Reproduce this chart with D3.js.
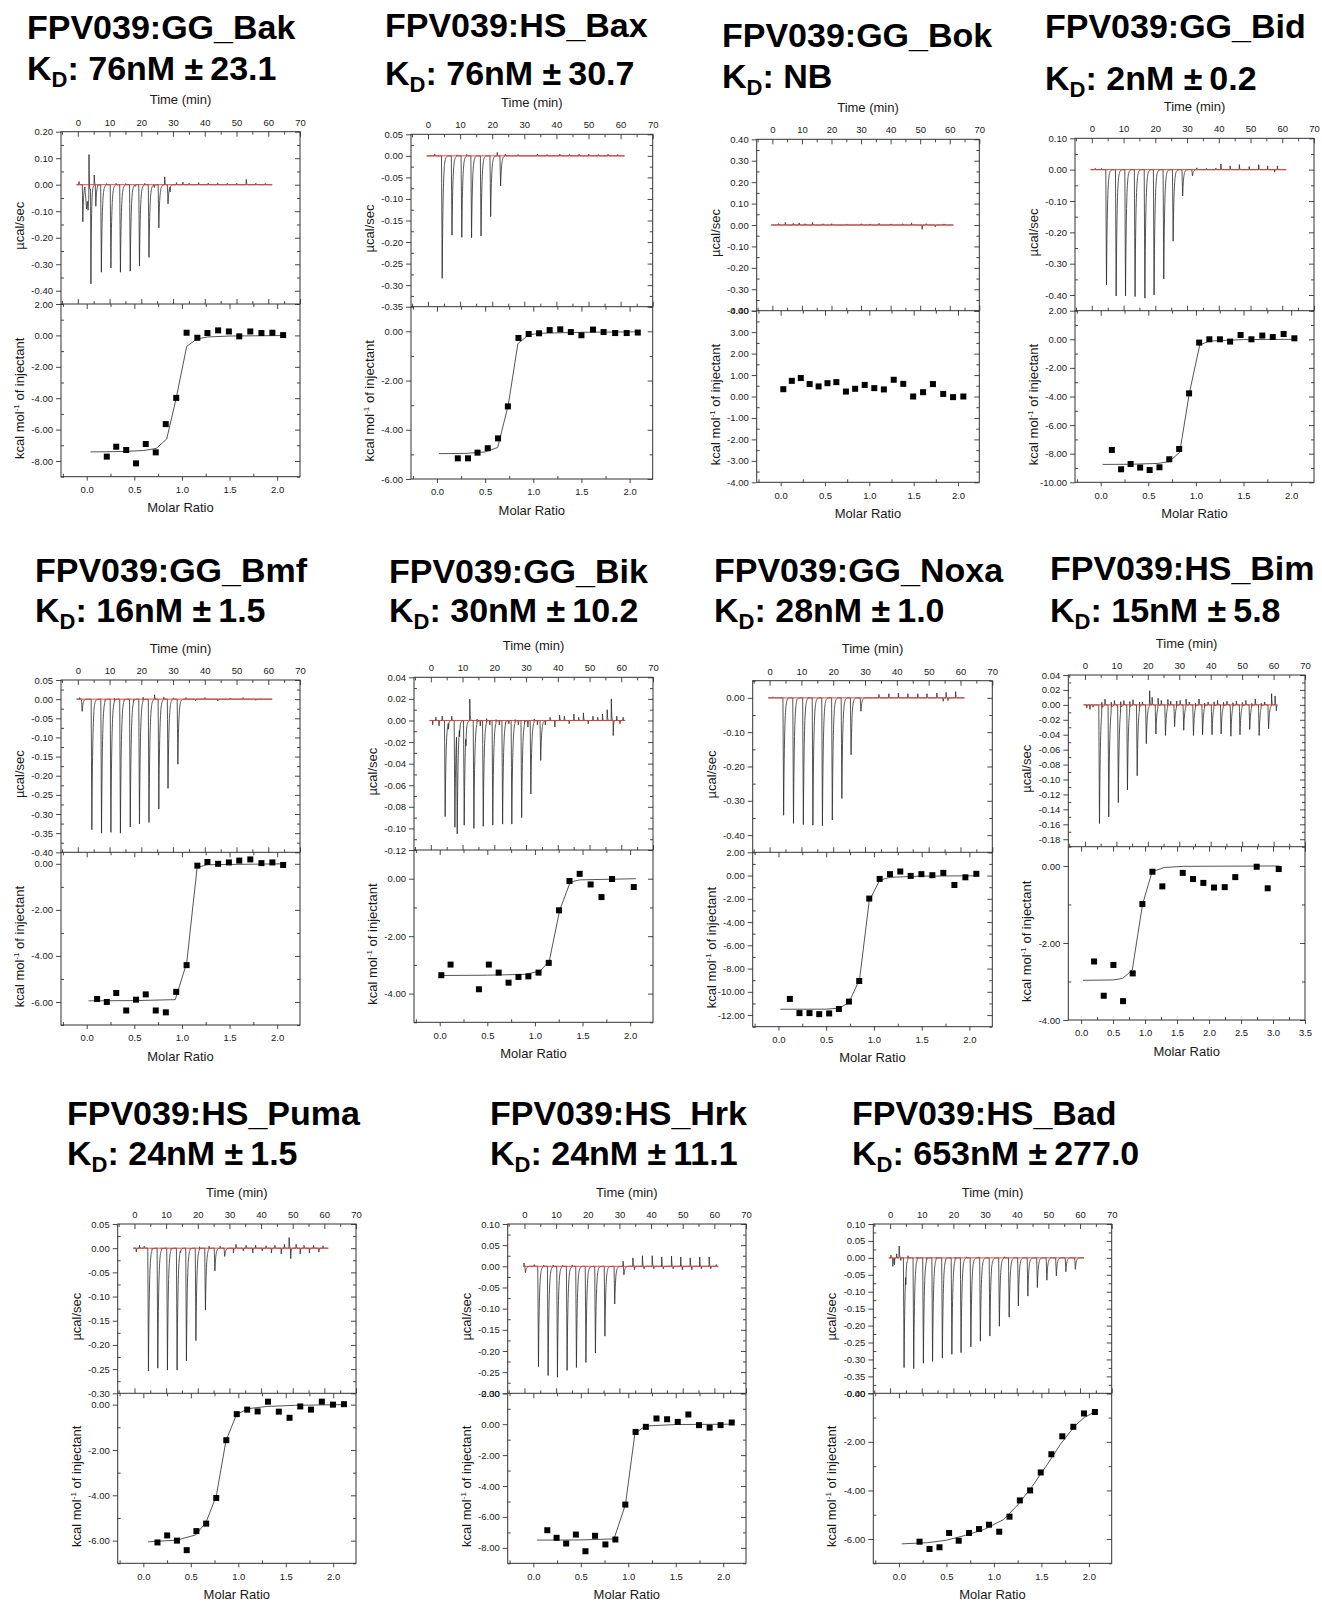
<!DOCTYPE html>
<html>
<head>
<meta charset="utf-8">
<script src="https://cdn.jsdelivr.net/npm/d3@7"></script>
<style>
  body { margin: 0; background: #fff; }
  svg text { font-family: "Liberation Sans", Arial, sans-serif; }
</style>
</head>
<body>
<script>
var width = 1322,
    height = 1611;

/* ============================ DATA ============================ */
// titles
var names = ["FPV039:GG_Bak", "FPV039:HS_Bax", "FPV039:GG_Bok", "FPV039:GG_Bid",
             "FPV039:GG_Bmf", "FPV039:GG_Bik", "FPV039:GG_Noxa", "FPV039:HS_Bim",
             "FPV039:HS_Puma", "FPV039:HS_Hrk", "FPV039:HS_Bad"];
var kdValue = ["76nM", "76nM", "NB", "2nM", "16nM", "30nM", "28nM", "15nM", "24nM", "24nM", "653nM"];
var kdError = ["23.1", "30.7", null, "0.2", "1.5", "10.2", "1.0", "5.8", "1.5", "11.1", "277.0"];

// raw thermograms: injections [time (min), peak µcal/sec, width] and small spikes [time, value]
var bakInj = [[1.4,-0.14,0.8],[2.2,-0.09,2.5],[3.0,-0.05,1],[4.0,-0.36,0.6],[5.5,-0.08,0.8],
  [7.2,-0.33],[10.2,-0.314],[13.2,-0.33],[16.3,-0.326],[19.2,-0.307],[22.2,-0.274],[25.3,-0.163],[28.2,-0.072]];
var bakNoise = [[0.3,0.012],[3.45,0.16],[5.1,0.04],[6.2,0.006],[9,0.005],[12,0.006],[15,0.005],[18,-0.005],
  [21,0.006],[24,-0.01],[27.3,0.03],[29,-0.02],[31,0.008],[33,0.01],[35,0.006],[38,0.008],[41,0.006],
  [44,0.007],[47,0.006],[50,0.006],[53,0.02],[56,0.006],[59,0.005]];
var baxInj = [[4.2,-0.284],[7.25,-0.184],[10.3,-0.189],[13.35,-0.19],[16.3,-0.186],[19.3,-0.141],[22.4,-0.07]];
var baxNoise = [[2,0.004],[5,0.003],[9,0.003],[12,0.004],[21.5,0.008],[24,0.004],[28,0.003],[34,0.004],
  [37,0.003],[41,0.004],[44,0.003],[47,0.004],[50,0.004],[53,0.003],[56,0.004],[59,0.003]];
var bokInj = [];
var bokNoise = [[2,0.006],[4.3,0.012],[7,0.008],[9,0.01],[11,0.006],[13.5,0.012],[17,0.006],[20,0.006],
  [25,0.005],[30,0.006],[33,0.005],[36,0.008],[40,0.005],[44,0.006],[47,0.01],[50.6,-0.02],[52,0.006],[55,-0.008],[58,0.005]];
var bidInj = [[4.4,-0.368],[7.45,-0.403],[10.4,-0.403],[13.4,-0.405],[16.5,-0.41],[19.4,-0.40],
  [22.45,-0.349],[25.4,-0.228],[28.4,-0.084],[31.5,-0.02]];
var bidNoise = [[1,0.004],[3,0.004],[33,0.006],[36,0.004],[39,0.005],[40.6,0.018],[43.5,0.012],[46.4,0.016],
  [49.5,0.01],[52.5,0.016],[55.3,0.012],[57.5,-0.008],[58.4,0.012]];
var bmfInj = [[1.15,-0.032],[4.2,-0.341],[7.25,-0.35],[10.2,-0.348],[13.2,-0.35],[16.3,-0.334],[19.2,-0.326],
  [22.2,-0.322],[25.3,-0.287],[28.2,-0.233],[31.3,-0.17]];
var bmfNoise = [[0.5,0.004],[5,0.005],[8.5,0.006],[11.5,0.008],[14.5,0.005],[17.5,0.008],[20.5,0.01],[24.1,0.012],
  [27,0.006],[30,0.004],[34,0.004],[37,-0.004],[40,0.004],[44,-0.005],[48,0.003],[52,0.004],[56,-0.003]];
var bikInj = [[4.3,-0.089],[7.36,-0.099],[8.1,-0.098],[10.3,-0.097],[13.35,-0.1],[16.3,-0.098],[19.3,-0.097],
  [22.4,-0.096],[25.3,-0.096],[28.4,-0.09],[31.3,-0.068],[34.4,-0.037]];
var bikNoise = [[0.5,-0.004],[1.5,0.003],[2.5,-0.005],[3.5,0.004],[5.5,-0.006],[6.5,0.004],[9,-0.008],[11,-0.01],
  [12.2,0.02],[14.5,0.004],[15.5,-0.005],[17.5,0.004],[18.5,-0.004],[20.5,0.003],[21.5,-0.004],[23.5,0.002],
  [24.5,-0.003],[26.5,0.003],[27.5,-0.004],[29.5,0.003],[30.5,-0.006],[32.5,0.003],[33.5,-0.004],[36,-0.004],
  [37.5,0.003],[39,-0.006],[40.5,0.005],[42,0.004],[43.5,-0.003],[45,0.006],[46.5,0.003],[48,0.007],
  [49.5,-0.003],[51,0.004],[52.5,0.003],[54,0.006],[55.5,0.01],[56.8,0.02],[57.4,-0.014],[58.5,0.004],
  [59.5,-0.003],[60.5,0.003]];
var noxaInj = [[4.2,-0.342],[7.3,-0.366],[10.4,-0.369],[13.4,-0.371],[16.4,-0.373],[19.5,-0.356],[22.5,-0.293],
  [25.4,-0.166],[28.5,-0.039]];
var noxaNoise = [[1,0.003],[5.5,0.003],[8.5,0.004],[12,0.003],[34.3,0.01],[37.4,0.012],[40.4,0.014],[43.4,0.012],
  [46.5,0.012],[49.4,0.012],[52.5,0.014],[54.5,-0.01],[55.4,0.016],[56,-0.008],[58.4,0.018]];
var bimInj = [[4.4,-0.159],[7.35,-0.15],[10.4,-0.131],[13.3,-0.114],[16.4,-0.095],[19.3,-0.052],[22.35,-0.039],
  [25.4,-0.041],[28.3,-0.029],[31.2,-0.034],[34.3,-0.041],[37.2,-0.04],[40.2,-0.04],[43.1,-0.039],
  [46.2,-0.042],[49.1,-0.04],[52.2,-0.033],[55.2,-0.041],[58.2,-0.032]];
var bimNoise = [[0.5,-0.004],[1.5,-0.006],[2.5,-0.003],[5.3,0.014],[6.3,0.008],[8.3,0.012],[9.3,0.006],
  [11.3,0.013],[12.3,0.006],[14.2,0.012],[15.2,0.007],[17.3,0.01],[18.2,0.004],[20.5,0.02],[21.3,0.01],
  [23.2,0.012],[24.2,0.006],[26.3,0.01],[27.2,0.005],[29.1,0.008],[30.2,0.006],[32.1,0.01],[33.1,0.004],
  [35.1,0.006],[36.2,0.008],[38,0.006],[39.1,0.004],[41,0.008],[42.1,0.006],[44,0.006],[45.1,0.005],
  [47,0.007],[48.1,0.005],[50,0.006],[51.1,0.006],[53,0.005],[54.1,0.008],[56,0.006],[57.1,0.004],
  [59.3,0.016],[60.4,0.012],[60.8,-0.008]];
var pumaInj = [[4.2,-0.254],[7.15,-0.248],[10.2,-0.252],[13.25,-0.252],[16.2,-0.233],[19.2,-0.191],
  [22.2,-0.128],[25.2,-0.047],[28.3,-0.017]];
var pumaNoise = [[0.5,-0.008],[1.5,0.006],[3,0.004],[5.5,0.004],[8.5,0.004],[11.5,0.004],[14.5,-0.004],
  [17.5,0.003],[20.5,0.006],[23.5,0.006],[27,0.004],[31.2,-0.01],[32,0.008],[34.3,-0.006],[35.2,0.006],
  [37.3,-0.01],[38.2,0.006],[40.3,-0.006],[41.5,0.005],[43.2,-0.01],[44.3,0.006],[46.3,-0.012],[47.3,0.008],
  [48.8,0.022],[49.3,-0.022],[51,0.008],[52.3,-0.012],[53.5,0.006],[55.2,-0.01],[56.5,0.006],[58.2,-0.008],[59.5,0.005]];
var hrkInj = [[0.1,-0.015],[4.2,-0.237],[7.25,-0.258],[10.2,-0.262],[13.25,-0.246],[16.2,-0.239],[19.2,-0.227],
  [22.2,-0.205],[25.2,-0.165],[28.3,-0.089],[31.2,-0.021]];
var hrkNoise = [[-0.2,0.008],[3,0.004],[6,0.003],[9,0.004],[12,0.003],[15,0.004],[31.1,0.012],[34.2,0.02],
  [34.7,-0.008],[37.2,0.025],[37.7,-0.006],[40.3,0.025],[40.8,-0.006],[43.3,0.022],[43.8,-0.006],[46.4,0.024],
  [46.9,-0.006],[49.3,0.022],[49.8,-0.008],[52.3,0.02],[52.8,-0.008],[55.3,0.022],[55.8,-0.006],[58.3,0.022],
  [58.8,-0.006],[60.5,0.004]];
var badInj = [[4.2,-0.324],[7.25,-0.327],[10.3,-0.311],[13.2,-0.306],[16.3,-0.296],[19.3,-0.285],[22.2,-0.28],
  [25.3,-0.263],[28.3,-0.246],[31.3,-0.231],[34.3,-0.202],[37.4,-0.175],[40.3,-0.142],[43.3,-0.113],
  [46.3,-0.088],[49.3,-0.066],[52.3,-0.053],[55.3,-0.041],[58.3,-0.034]];
var badNoise = [[0.2,0.008],[0.8,-0.025],[1.3,-0.02],[2.0,0.012],[2.8,0.035],[3.3,-0.008],[4.9,-0.035],
  [5.6,0.01],[8.5,0.008],[11.5,0.008],[14.5,0.006],[17.5,0.004],[20.5,0.008],[24,0.004],[28,0.003],[32,0.003],[36,0.004]];

// integrated heats [molar ratio, kcal/mol] and fitted curve points
var bakHeat = [[0.211,-7.72],[0.31,-7.09],[0.415,-7.30],[0.518,-8.15],[0.62,-6.92],[0.725,-7.45],[0.83,-5.65],
  [0.94,-3.98],[1.049,0.17],[1.162,-0.15],[1.268,0.15],[1.38,0.32],[1.493,0.25],[1.602,-0.06],[1.718,0.25],
  [1.835,0.15],[1.95,0.17],[2.063,0.02]];
var bakFit = [[0.04,-7.42],[0.2,-7.41],[0.4,-7.39],[0.6,-7.33],[0.73,-7.2],[0.84,-6.6],[0.94,-4.0],[1.05,-0.7],
  [1.16,-0.22],[1.27,-0.1],[1.5,-0.04],[2.07,-0.01]];
var baxHeat = [[0.216,-5.16],[0.322,-5.16],[0.421,-4.93],[0.527,-4.75],[0.634,-4.35],[0.736,-3.05],[0.846,-0.27],
  [0.952,-0.11],[1.06,-0.08],[1.17,0.05],[1.28,0.08],[1.39,-0.03],[1.50,-0.16],[1.62,0.07],[1.73,-0.03],
  [1.85,-0.07],[1.97,-0.07],[2.085,-0.05]];
var baxFit = [[0.02,-4.97],[0.3,-4.96],[0.5,-4.9],[0.63,-4.72],[0.74,-3.0],[0.84,-0.5],[0.95,-0.15],[1.06,-0.08],
  [1.5,-0.04],[2.08,-0.02]];
var bokHeat = [[0.03,0.34],[0.126,0.73],[0.227,0.86],[0.327,0.58],[0.428,0.47],[0.528,0.62],[0.628,0.67],
  [0.736,0.23],[0.84,0.36],[0.948,0.54],[1.056,0.39],[1.164,0.33],[1.275,0.78],[1.383,0.59],[1.494,0.0],
  [1.606,0.2],[1.717,0.58],[1.833,0.12],[1.944,-0.03],[2.06,0.0]];
var bokFit = [];
var bidHeat = [[0.117,-7.74],[0.214,-9.09],[0.314,-8.72],[0.414,-8.97],[0.514,-9.14],[0.617,-8.95],[0.72,-8.39],
  [0.824,-7.67],[0.928,-3.78],[1.034,-0.23],[1.141,0.0],[1.252,0.0],[1.359,-0.16],[1.469,0.30],[1.583,0.0],
  [1.697,0.26],[1.807,0.16],[1.921,0.37],[2.034,0.07]];
var bidFit = [[0.02,-8.75],[0.3,-8.74],[0.6,-8.68],[0.72,-8.55],[0.83,-7.9],[0.93,-3.8],[1.04,-0.4],[1.14,-0.12],
  [1.5,-0.02],[2.05,0]];
var bmfHeat = [[0.109,-5.87],[0.211,-6.0],[0.31,-5.61],[0.415,-6.37],[0.518,-5.9],[0.62,-5.67],[0.725,-6.37],
  [0.831,-6.45],[0.94,-5.56],[1.049,-4.4],[1.162,-0.08],[1.268,0.08],[1.38,0.0],[1.493,0.06],[1.602,0.14],
  [1.718,0.19],[1.835,0.03],[1.95,0.06],[2.063,-0.05]];
var bmfFit = [[0.02,-5.95],[0.5,-5.94],[0.93,-5.9],[1.05,-4.3],[1.16,-0.15],[1.27,-0.04],[2.07,0]];
var bikHeat = [[0.017,-3.36],[0.114,-2.99],[0.412,-3.85],[0.516,-2.99],[0.619,-3.27],[0.723,-3.62],[0.827,-3.42],
  [0.931,-3.40],[1.038,-3.27],[1.145,-2.93],[1.253,-1.10],[1.363,-0.08],[1.47,0.17],[1.585,-0.2],[1.699,-0.64],
  [1.81,-0.01],[2.038,-0.29]];
var bikFit = [[0.02,-3.37],[0.5,-3.36],[0.9,-3.33],[1.05,-3.22],[1.15,-2.88],[1.26,-1.1],[1.37,-0.12],[1.47,-0.04],[2.06,0]];
var noxaHeat = [[0.119,-10.61],[0.22,-11.83],[0.325,-11.83],[0.427,-11.92],[0.531,-11.86],[0.633,-11.48],
  [0.738,-10.84],[0.846,-9.07],[0.951,-1.98],[1.06,-0.29],[1.168,0.12],[1.276,0.35],[1.385,-0.03],[1.497,0.12],
  [1.612,0.03],[1.727,0.23],[1.843,-0.81],[1.958,-0.15],[2.073,0.15]];
var noxaFit = [[0.02,-11.5],[0.5,-11.49],[0.64,-11.4],[0.74,-10.9],[0.85,-8.9],[0.95,-2.2],[1.06,-0.4],[1.17,-0.15],
  [1.5,-0.05],[2.08,-0.02]];
var bimHeat = [[0.203,-2.48],[0.354,-3.37],[0.505,-2.57],[0.656,-3.51],[0.807,-2.79],[0.958,-0.99],[1.115,-0.15],
  [1.27,-0.53],[1.589,-0.18],[1.75,-0.34],[1.911,-0.44],[2.078,-0.56],[2.245,-0.55],[2.41,-0.29],[2.745,-0.02],
  [2.917,-0.58],[3.089,-0.08]];
var bimFit = [[0.03,-2.97],[0.5,-2.96],[0.65,-2.92],[0.8,-2.7],[0.96,-1.0],[1.11,-0.15],[1.3,-0.04],[1.6,-0.01],[3.1,0]];
var pumaHeat = [[0.149,-6.08],[0.251,-5.77],[0.354,-6.0],[0.457,-6.42],[0.559,-5.58],[0.662,-5.25],[0.768,-4.12],
  [0.874,-1.57],[0.984,-0.42],[1.094,-0.22],[1.204,-0.3],[1.313,0.13],[1.427,-0.31],[1.54,-0.58],[1.653,-0.08],
  [1.766,-0.22],[1.88,0.13],[1.997,0.0],[2.113,0.02]];
var pumaFit = [[0.05,-6.05],[0.35,-5.98],[0.55,-5.75],[0.66,-5.2],[0.77,-4.0],[0.87,-1.6],[0.98,-0.45],[1.1,-0.18],
  [1.3,-0.08],[1.6,-0.03],[2.1,0]];
var hrkHeat = [[0.147,-6.86],[0.245,-7.35],[0.346,-7.72],[0.448,-7.14],[0.549,-8.22],[0.65,-7.22],[0.759,-7.78],
  [0.864,-7.46],[0.969,-5.2],[1.077,-0.5],[1.185,-0.17],[1.297,0.37],[1.409,0.32],[1.521,0.15],[1.633,0.63],
  [1.745,-0.06],[1.857,-0.22],[1.972,-0.06],[2.09,0.11]];
var hrkFit = [[0.04,-7.5],[0.5,-7.49],[0.85,-7.42],[0.97,-5.2],[1.07,-0.6],[1.18,-0.12],[1.5,-0.02],[2.09,0]];
var badHeat = [[0.217,-6.11],[0.322,-6.41],[0.427,-6.34],[0.528,-5.75],[0.629,-6.07],[0.738,-5.75],[0.843,-5.59],
  [0.948,-5.41],[1.056,-5.70],[1.164,-5.08],[1.273,-4.41],[1.381,-4.0],[1.493,-3.26],[1.605,-2.51],[1.72,-1.77],
  [1.836,-1.38],[1.948,-0.83],[2.063,-0.77]];
var badFit = [[0.03,-6.2],[0.3,-6.15],[0.5,-6.05],[0.7,-5.85],[0.9,-5.6],[1.1,-5.2],[1.25,-4.6],[1.4,-3.85],
  [1.55,-3.0],[1.7,-2.1],[1.85,-1.35],[1.95,-1.0],[2.07,-0.75]];

var injections = [bakInj, baxInj, bokInj, bidInj, bmfInj, bikInj, noxaInj, bimInj, pumaInj, hrkInj, badInj];
var spikes = [bakNoise, baxNoise, bokNoise, bidNoise, bmfNoise, bikNoise, noxaNoise, bimNoise, pumaNoise, hrkNoise, badNoise];
var heats = [bakHeat, baxHeat, bokHeat, bidHeat, bmfHeat, bikHeat, noxaHeat, bimHeat, pumaHeat, hrkHeat, badHeat];
var fits = [bakFit, baxFit, bokFit, bidFit, bmfFit, bikFit, noxaFit, bimFit, pumaFit, hrkFit, badFit];

// axis ranges [min, max, major step]
var upperRange = [[-0.45,0.20,0.10],[-0.35,0.05,0.05],[-0.40,0.40,0.10],[-0.45,0.10,0.10],
                  [-0.40,0.05,0.05],[-0.12,0.04,0.02],[-0.45,0.05,0.10],[-0.19,0.04,0.02],
                  [-0.30,0.05,0.05],[-0.30,0.10,0.05],[-0.40,0.10,0.05]];
var lowerRange = [[-9,2,2],[-6,1,2],[-4,4,1],[-10,2,2],[-7,0.5,2],[-5,1,2],[-13,2,2],[-4,0.5,2],
                  [-7,0.5,2],[-9,2,2],[-7,0,2]];
var ratioRange = [[-0.27,2.24],[-0.27,2.24],[-0.27,2.24],[-0.27,2.24],[-0.27,2.24],[-0.27,2.24],
                  [-0.27,2.24],[-0.2,3.5],[-0.27,2.24],[-0.27,2.24],[-0.27,2.24]];
var timeRange = [-5.3, 70];

/* ============================ LAYOUT ============================ */
// frame: left, top, right, middle, bottom ; title x, baselines
var frames = [
  {L:61,    T:131.7, R:300,   M:304,   B:476.7,  tx:27,   ty:[39, 80]},
  {L:411,   T:134.3, R:652.7, M:306.7, B:479,    tx:385,  ty:[37, 85]},
  {L:756.7, T:139.3, R:979.3, M:310.7, B:482.3,  tx:722,  ty:[47, 88]},
  {L:1075,  T:138.3, R:1314,  M:310.7, B:482.3,  tx:1045, ty:[38, 90]},
  {L:61,    T:680,   R:300,   M:852.3, B:1025,   tx:35,   ty:[582, 622]},
  {L:414,   T:677.3, R:653,   M:850,   B:1022.3, tx:389,  ty:[583, 622]},
  {L:752.7, T:680.7, R:992.3, M:852.3, B:1026.7, tx:714,  ty:[582, 622]},
  {L:1068.3,T:675,   R:1305,  M:846.7, B:1020,   tx:1050, ty:[580, 622]},
  {L:117.7, T:1224,  R:356,   M:1393.3,B:1563.3, tx:67,   ty:[1125, 1165]},
  {L:507.7, T:1224,  R:746,   M:1393.3,B:1563.3, tx:490,  ty:[1125, 1165]},
  {L:873.3, T:1224,  R:1111.7,M:1393.3,B:1563.3, tx:852,  ty:[1125, 1165]}
];

var svg = d3.select('body').append('svg')
    .attr('width', width)
    .attr('height', height);

svg.append('rect').attr('width', width).attr('height', height).attr('fill', '#fff');

/* ============================ HELPERS ============================ */
function steps(lo, hi, step) {
  var out = [], k = Math.ceil(lo / step - 1e-6), v;
  while ((v = k * step) <= hi + step * 1e-6) { out.push(+v.toFixed(6)); k++; }
  return out;
}
function minors(lo, hi, step) {
  var major = steps(lo, hi, step).map(String);
  return steps(lo, hi, step / 2).filter(function(v) { return major.indexOf(String(v)) < 0; });
}

// shape of one heat pulse in the raw trace
function pulse(dt, w) {
  var r = 0.22 * w, tau = 0.28 * w;
  if (dt < 0) return 0;
  if (dt < r) return dt / r;
  return Math.exp(-(dt - r) / tau);
}

function tracePoints(inj, noise) {
  var ev = inj.map(function(e) { return [e[0], e[1], e[2] || 1]; })
      .concat(noise.map(function(e) { return [e[0], e[1], e[2] || 0.35]; }));
  var ts = d3.range(-0.4, 61.3, 0.05);
  ev.forEach(function(e) { ts.push(e[0] + 0.22 * e[2]); });
  ts.sort(d3.ascending);
  return ts.map(function(t) {
    var v = 0;
    ev.forEach(function(e) { v += e[1] * pulse(t - e[0], e[2]); });
    return [t, v];
  });
}

function styleAxis(sel, labels) {
  sel.select('.domain').remove();
  sel.selectAll('.tick line').attr('stroke', '#333').attr('stroke-width', 0.9);
  sel.selectAll('.tick text').attr('fill', '#1a1a1a').attr('font-size', 9.5)
     .attr('font-family', '"Liberation Sans", Arial, sans-serif');
  if (!labels) sel.selectAll('.tick text').remove();
}

function addAxis(g, gen, scale, vals, size, pad, fmt, labels, tx, ty) {
  var a = gen(scale).tickValues(vals).tickSize(size).tickPadding(pad)
      .tickFormat(fmt);
  g.append('g').attr('transform', 'translate(' + tx + ',' + ty + ')')
      .call(a).call(function(s) { styleAxis(s, labels); });
}

var f2 = function(v) { return v.toFixed(2); },
    f1 = function(v) { return v.toFixed(1); },
    f0 = function(v) { return String(v); };

/* ============================ BUILD PANELS ============================ */
function drawPanel(i) {
  var f = frames[i],
      g = svg.append('g').attr('class', 'panel');

  var xt = d3.scaleLinear().domain(timeRange).range([f.L, f.R]),
      xr = d3.scaleLinear().domain(ratioRange[i]).range([f.L, f.R]),
      yu = d3.scaleLinear().domain([upperRange[i][0], upperRange[i][1]]).range([f.M, f.T]),
      yl = d3.scaleLinear().domain([lowerRange[i][0], lowerRange[i][1]]).range([f.B, f.M]);

  var u = upperRange[i], l = lowerRange[i], rr = ratioRange[i];
  var tMaj = steps(timeRange[0], timeRange[1], 10), tMin = minors(timeRange[0], timeRange[1], 10);
  var rMaj = steps(rr[0], rr[1], 0.5), rMin = minors(rr[0], rr[1], 0.5);
  var uMaj = steps(u[0], u[1], u[2]), uMin = minors(u[0], u[1], u[2]);
  var lMaj = steps(l[0], l[1], l[2]), lMin = minors(l[0], l[1], l[2]);

  // title
  g.append('text').attr('x', f.tx).attr('y', f.ty[0])
      .attr('font-size', 34).attr('font-weight', 'bold').attr('fill', '#000')
      .text(names[i]);
  var t2 = g.append('text').attr('x', f.tx).attr('y', f.ty[1])
      .attr('font-size', 34).attr('font-weight', 'bold').attr('fill', '#000');
  t2.append('tspan').text('K');
  t2.append('tspan').attr('font-size', 22).attr('dy', 7).text('D');
  t2.append('tspan').attr('dy', -7).text(': ' + kdValue[i] + (kdError[i] ? ' \u00b1' : ''));
  if (kdError[i]) t2.append('tspan').attr('dx', 7).text(kdError[i]);

  // raw thermogram
  var line = d3.line().x(function(d) { return xt(d[0]); }).y(function(d) { return yu(d[1]); });
  g.append('path').datum(tracePoints(injections[i], spikes[i]))
      .attr('d', line).attr('fill', 'none').attr('stroke', '#2a2a2a').attr('stroke-width', 0.8);
  g.append('path').datum([[-0.4, 0], [61.2, 0]])
      .attr('d', line).attr('fill', 'none').attr('stroke', '#e8322b').attr('stroke-width', 0.9);

  // fit + heats
  var fl = d3.line().x(function(d) { return xr(d[0]); }).y(function(d) { return yl(d[1]); });
  if (fits[i].length)
    g.append('path').datum(fits[i]).attr('d', fl).attr('fill', 'none')
        .attr('stroke', '#555').attr('stroke-width', 1);
  g.selectAll('.sq').data(heats[i]).enter().append('rect').attr('class', 'sq')
      .attr('x', function(d) { return xr(d[0]) - 3; })
      .attr('y', function(d) { return yl(d[1]) - 3; })
      .attr('width', 6).attr('height', 6).attr('fill', '#000');

  // frames
  g.append('rect').attr('x', f.L).attr('y', f.T).attr('width', f.R - f.L).attr('height', f.B - f.T)
      .attr('fill', 'none').attr('stroke', '#333').attr('stroke-width', 1);
  g.append('line').attr('x1', f.L).attr('x2', f.R).attr('y1', f.M).attr('y2', f.M)
      .attr('stroke', '#333').attr('stroke-width', 1);

  // time axes (upper plot)
  addAxis(g, d3.axisTop, xt, tMaj, -5, 6, f0, true, 0, f.T);
  addAxis(g, d3.axisTop, xt, tMin, -3, 0, f0, false, 0, f.T);
  addAxis(g, d3.axisBottom, xt, tMaj, -5, 0, f0, false, 0, f.M);
  addAxis(g, d3.axisBottom, xt, tMin, -3, 0, f0, false, 0, f.M);
  addAxis(g, d3.axisLeft, yu, uMaj, 5, 3, f2, true, f.L, 0);
  addAxis(g, d3.axisLeft, yu, uMin, -3, 0, f2, false, f.L, 0);
  addAxis(g, d3.axisRight, yu, uMaj, -5, 0, f2, false, f.R, 0);
  addAxis(g, d3.axisRight, yu, uMin, -3, 0, f2, false, f.R, 0);

  // molar ratio axes (lower plot)
  addAxis(g, d3.axisBottom, xr, rMaj, 4, 5.5, f1, true, 0, f.B);
  addAxis(g, d3.axisBottom, xr, rMin, -3, 0, f1, false, 0, f.B);
  addAxis(g, d3.axisTop, xr, rMaj, -5, 0, f1, false, 0, f.M);
  addAxis(g, d3.axisTop, xr, rMin, -3, 0, f1, false, 0, f.M);
  addAxis(g, d3.axisLeft, yl, lMaj, 5, 3, f2, true, f.L, 0);
  addAxis(g, d3.axisLeft, yl, lMin, -3, 0, f2, false, f.L, 0);
  addAxis(g, d3.axisRight, yl, lMaj, -5, 0, f2, false, f.R, 0);
  addAxis(g, d3.axisRight, yl, lMin, -3, 0, f2, false, f.R, 0);

  // axis titles
  var cx = (f.L + f.R) / 2;
  g.append('text').attr('x', cx).attr('y', f.T - 27.5).attr('text-anchor', 'middle')
      .attr('font-size', 13).attr('fill', '#1a1a1a').text('Time (min)');
  g.append('text').attr('x', cx).attr('y', f.B + 35.5).attr('text-anchor', 'middle')
      .attr('font-size', 13).attr('fill', '#1a1a1a').text('Molar Ratio');
  g.append('text')
      .attr('transform', 'translate(' + (f.L - 37) + ',' + ((f.T + f.M) / 2 + 8) + ') rotate(-90)')
      .attr('text-anchor', 'middle').attr('font-size', 13).attr('fill', '#1a1a1a').text('\u00b5cal/sec');
  var yt = g.append('text')
      .attr('transform', 'translate(' + (f.L - 37) + ',' + ((f.M + f.B) / 2 + 8) + ') rotate(-90)')
      .attr('text-anchor', 'middle').attr('font-size', 13).attr('fill', '#1a1a1a');
  yt.append('tspan').text('kcal mol');
  yt.append('tspan').attr('font-size', 8).attr('dy', -5).text('-1');
  yt.append('tspan').attr('dy', 5).text(' of injectant');
}

for (var i = 0; i < frames.length; i++) drawPanel(i);
</script>
</body>
</html>
